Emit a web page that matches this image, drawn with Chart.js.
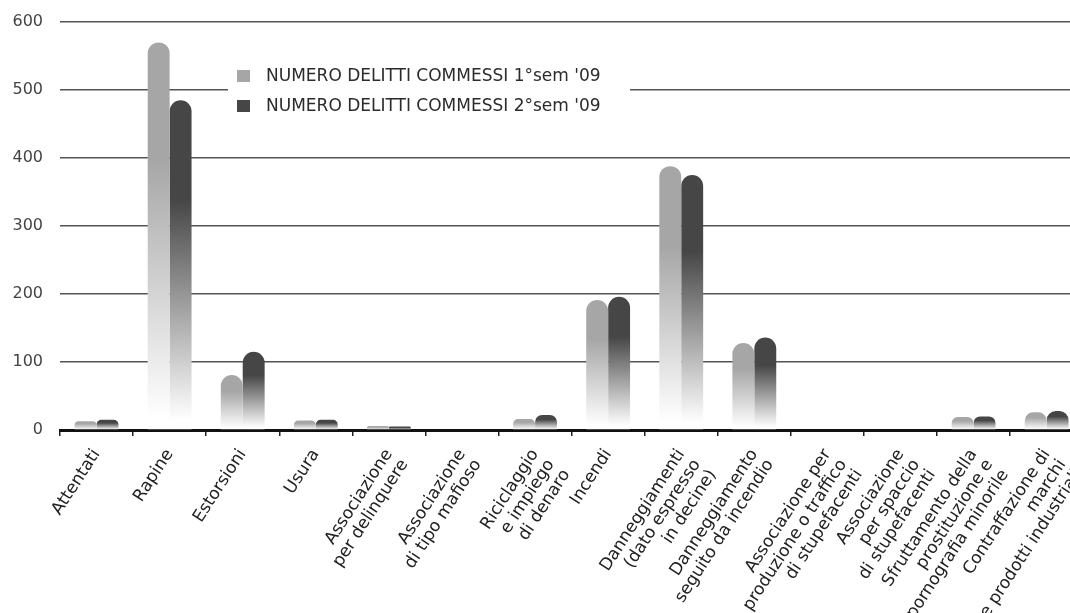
<!DOCTYPE html>
<html lang="it">
<head>
  <meta charset="UTF-8" />
  <title>Delitti commessi 2009</title>
  <script src="https://cdn.jsdelivr.net/npm/chart.js"></script>
  <style>
    html, body { margin: 0; padding: 0; background: #fff; overflow: hidden; }
    #wrap { position: relative; width: 1104px; height: 613px; }
  </style>
</head>
<body>
  <div id="wrap"><canvas id="chart"></canvas></div>

  <script>
    const categories = [
      'Attentati',
      'Rapine',
      'Estorsioni',
      'Usura',
      ['Associazione', 'per delinquere'],
      ['Associazione', 'di tipo mafioso'],
      ['Riciclaggio', 'e impiego', 'di denaro'],
      'Incendi',
      ['Danneggiamenti', '(dato espresso', 'in decine)'],
      ['Danneggiamento', 'seguito da incendio'],
      ['Associazione per', 'produzione o traffico', 'di stupefacenti'],
      ['Associazione', 'per spaccio', 'di stupefacenti'],
      ['Sfruttamento della', 'prostituzione e', 'pornografia minorile'],
      ['Contraffazione di', 'marchi', 'e prodotti industriali']
    ];
    const sem1Label = "NUMERO DELITTI COMMESSI 1°sem '09";
    const sem2Label = "NUMERO DELITTI COMMESSI 2°sem '09";
    const sem1 = [13, 570, 81, 14, 6, 0, 16, 191, 388, 128, 0, 0, 19, 26];
    const sem2 = [15, 485, 115, 15, 5, 0, 22, 196, 375, 136, 0, 0, 20, 28];
    const yTicks = [0, 100, 200, 300, 400, 500, 600];

    const SEM1_COLOR = '#a6a6a6';
    const SEM2_COLOR = '#464646';

    // each bar fades from its colour at the top down to white at the axis
    function fade(base) {
      return (ctx) => {
        const chart = ctx.chart;
        if (!chart.chartArea || ctx.type !== 'data') return base;
        const y = chart.scales.y;
        const top = y.getPixelForValue(ctx.raw);
        const bottom = y.getPixelForValue(0);
        if (bottom - top < 1) return base;
        const g = chart.ctx.createLinearGradient(0, top, 0, bottom);
        g.addColorStop(0, base);
        g.addColorStop(0.3, base);
        g.addColorStop(0.97, '#ffffff');
        return g;
      };
    }

    // legend sits on a white panel inside the plot
    const boxLegend = {
      id: 'boxLegend',
      afterDraw(chart) {
        const c = chart.ctx;
        c.save();
        c.fillStyle = '#ffffff';
        c.fillRect(228, 58, 402, 62);
        const items = [[SEM1_COLOR, sem1Label, 76], [SEM2_COLOR, sem2Label, 106]];
        c.font = '17px "DejaVu Sans"';
        c.textBaseline = 'middle';
        items.forEach(([col, txt, yy]) => {
          c.fillStyle = col;
          c.fillRect(237, yy - 6, 13, 12);
          c.fillStyle = '#2b2b2b';
          c.fillText(txt, 266, yy + 1);
        });
        c.restore();
      }
    };

    new Chart(document.getElementById('chart'), {
      type: 'bar',
      data: {
        labels: categories,
        datasets: [
          { label: sem1Label, data: sem1, backgroundColor: fade(SEM1_COLOR) },
          { label: sem2Label, data: sem2, backgroundColor: fade(SEM2_COLOR) }
        ]
      },
      options: {
        responsive: true,
        maintainAspectRatio: false,
        animation: false,
        layout: { padding: { top: 22, right: 8, left: 0, bottom: 0 } },
        datasets: {
          bar: {
            barPercentage: 1,
            categoryPercentage: 0.6,
            borderRadius: { topLeft: 11, topRight: 11 },
            borderSkipped: 'bottom'
          }
        },
        plugins: {
          legend: { display: false },
          tooltip: { enabled: false }
        },
        scales: {
          x: {
            afterFit: (s) => { s.height = 183; s.paddingTop = 0; },
            grid: {
              display: true,
              drawOnChartArea: false,
              drawTicks: true,
              tickLength: 6,
              color: '#222',
              lineWidth: 1.5
            },
            border: { display: true, color: '#111', width: 3 },
            ticks: {
              minRotation: 57,
              maxRotation: 57,
              autoSkip: false,
              padding: 10,
              color: '#222',
              font: { family: 'DejaVu Sans', size: 17, lineHeight: 1.1 }
            }
          },
          y: {
            z: 1,
            min: 0,
            max: 600,
            afterFit: (s) => { s.width = 60; s.paddingTop = 0; },
            afterBuildTicks: (s) => { s.ticks = yTicks.map(v => ({ value: v })); },
            grid: { color: '#555', lineWidth: 1.5, drawTicks: false },
            border: { display: false },
            ticks: {
              padding: 17,
              color: '#444',
              font: { family: 'DejaVu Sans', size: 16 }
            }
          }
        }
      },
      plugins: [boxLegend]
    });
  </script>
</body>
</html>
